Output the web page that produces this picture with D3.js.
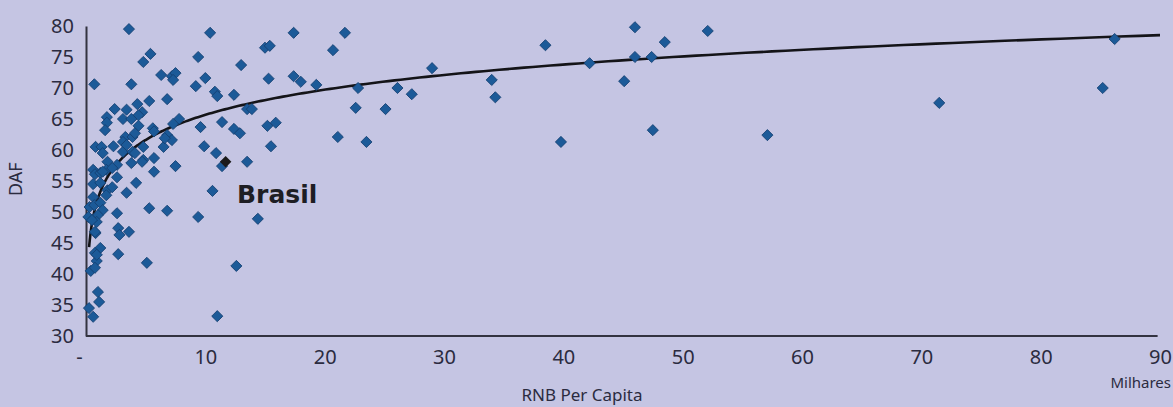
<!DOCTYPE html>
<html>
<head>
<meta charset="utf-8">
<script src="https://cdn.jsdelivr.net/npm/d3@7"></script>
<style>
  html, body { margin: 0; padding: 0; background: #c5c5e3; }
  svg { display: block; }
</style>
</head>
<body>
<svg id="chart" width="1173" height="407"></svg>
<script>
// ---- Data (RNB per capita in thousands, DAF) ----
const rnb = [
  3.6, 10.4, 17.4, 21.7, 20.7, 5.4, 4.8, 9.4, 15.0, 15.4, 13.0, 0.7, 3.8, 6.3, 7.2, 7.5, 7.3, 9.2, 10.0, 10.8,
  11.0, 12.4, 13.5, 13.9, 15.3, 17.4, 18.0, 19.3, 6.8, 5.3, 4.3, 2.4, 3.4, 4.7, 4.4, 1.75, 1.75, 3.1, 3.8, 4.4,
  1.6, 5.6, 5.7, 7.8, 7.3, 9.6, 11.4, 12.4, 12.9, 15.2, 15.9, 3.3, 3.9, 6.8, 7.2, 6.5, 3.1, 4.8, 0.8, 1.3,
  2.3, 1.4, 3.1, 3.9, 9.9, 10.9, 15.5, 5.7, 4.8, 4.7, 1.8, 3.8, 2.6, 11.4, 7.5, 13.5, 5.7, 0.6, 0.75, 1.7,
  1.2, 2.6, 4.2, 3.4, 10.6, 0.6, 1.2, 1.8, 1.7, 0.6, 0.3, 0.7, 1.2, 1.4, 0.2, 1.0, 0.9, 2.6, 5.3, 6.8,
  9.4, 14.4, 0.8, 2.7, 2.8, 3.6, 1.2, 0.75, 0.9, 2.7, 5.1, 12.6, 0.4, 0.75, 1.0, 1.1, 0.25, 0.6, 11.0, 22.6,
  22.8, 21.1, 23.5, 25.1, 26.1, 27.3, 29.0, 34.0, 34.3, 38.5, 39.8, 42.2, 45.1, 46.0, 46.0, 47.4, 47.5, 48.5, 52.1, 57.1,
  71.5, 85.2, 86.2, 4.1, 3.4, 6.6, 4.1, 2.2, 1.4, 2.2, 0.5, 0.75, 0.9
];
const daf = [
  79.5, 78.9, 78.9, 78.9, 76.1, 75.5, 74.2, 75.0, 76.5, 76.8, 73.7, 70.6, 70.6, 72.1, 71.9, 72.4, 71.3, 70.3, 71.6, 69.4,
  68.7, 68.9, 66.6, 66.6, 71.5, 71.9, 71.0, 70.5, 68.2, 67.9, 67.4, 66.6, 66.5, 66.1, 65.6, 65.3, 64.4, 65.0, 65.0, 63.9,
  63.2, 63.5, 63.0, 65.0, 64.2, 63.7, 64.5, 63.4, 62.7, 63.9, 64.4, 62.1, 62.1, 62.4, 61.6, 60.5, 61.3, 60.5, 60.5, 60.5,
  60.6, 59.5, 59.7, 59.7, 60.6, 59.5, 60.6, 58.7, 58.4, 58.1, 58.1, 57.9, 57.6, 57.4, 57.4, 58.1, 56.5, 56.8, 56.1, 56.8,
  56.3, 55.6, 54.7, 53.1, 53.4, 54.5, 54.7, 53.5, 52.7, 52.4, 50.8, 51.1, 51.5, 50.3, 49.2, 49.5, 48.4, 49.8, 50.6, 50.2,
  49.2, 48.9, 46.6, 47.4, 46.3, 46.8, 44.2, 43.4, 42.1, 43.2, 41.8, 41.3, 40.5, 41.0, 37.1, 35.5, 34.5, 33.1, 33.2, 66.8,
  70.0, 62.1, 61.3, 66.6, 70.0, 69.0, 73.2, 71.3, 68.5, 76.9, 61.3, 74.0, 71.1, 79.8, 75.0, 75.0, 63.2, 77.4, 79.2, 62.4,
  67.6, 70.0, 77.9, 62.7, 60.8, 61.9, 59.5, 57.1, 56.5, 54.0, 48.7, 46.8, 43.1
];
const brasil = { label: "Brasil", rnb: 11.7, daf: 58.1 };

// Logarithmic trend line as shown in the chart: DAF = a*ln(RNB) + b
const trendCoef = { a: 5.85, b: 52.2, from: 0.26, to: 90 };

const xTicks = [0, 10, 20, 30, 40, 50, 60, 70, 80, 90];
const yTicks = [30, 35, 40, 45, 50, 55, 60, 65, 70, 75, 80];
const xTitle = "RNB Per Capita";
const yTitle = "DAF";
const unitLabel = "Milhares";

// ---- Layout ----
const svg = d3.select("#chart");
const x = d3.scaleLinear().domain([0, 90]).range([86, 1160]);
const y = d3.scaleLinear().domain([30, 80]).range([336, 26]);

const textColor = "#2b2b40";
const fontFam = "'Noto Sans', 'DejaVu Sans', sans-serif";

// Y axis
const yAxis = d3.axisLeft(y).tickValues(yTicks).tickSize(0).tickPadding(12);
const gy = svg.append("g").attr("transform", "translate(86,0)").call(yAxis);
gy.select(".domain").attr("stroke", "#333340").attr("stroke-width", 2);
gy.selectAll("text").attr("font-family", fontFam).attr("font-size", 20).attr("fill", textColor);

// X axis
const xAxis = d3.axisBottom(x).tickValues(xTicks).tickSize(0).tickPadding(14)
  .tickFormat(d => d === 0 ? "-" : d);
const gx = svg.append("g").attr("transform", "translate(0,336)").call(xAxis);
gx.select(".domain").attr("stroke", "#333340").attr("stroke-width", 2.2)
  .attr("d", `M${x(0)},0H${x(89.8)}`);
gx.selectAll("text").attr("font-family", fontFam).attr("font-size", 20).attr("fill", textColor);
gx.selectAll(".tick").filter(d => d === 0).select("text").attr("dx", -7);

// Axis titles
svg.append("text")
  .attr("transform", `translate(22,${y(55.3)}) rotate(-90)`)
  .attr("text-anchor", "middle")
  .attr("font-family", fontFam).attr("font-size", 18).attr("fill", textColor)
  .text(yTitle);

svg.append("text")
  .attr("x", 582).attr("y", 401)
  .attr("text-anchor", "middle")
  .attr("font-family", fontFam).attr("font-size", 17).attr("fill", textColor)
  .text(xTitle);

svg.append("text")
  .attr("x", 1171).attr("y", 388)
  .attr("text-anchor", "end")
  .attr("font-family", fontFam).attr("font-size", 15).attr("fill", textColor)
  .text(unitLabel);

// ---- Trend line ----
const trendPts = d3.range(0, 301).map(i => {
  const xv = trendCoef.from * Math.pow(trendCoef.to / trendCoef.from, i / 300);
  return [xv, trendCoef.a * Math.log(xv) + trendCoef.b];
});
svg.append("path")
  .datum(trendPts)
  .attr("fill", "none")
  .attr("stroke", "#141418")
  .attr("stroke-width", 2.6)
  .attr("d", d3.line().x(d => x(d[0])).y(d => y(d[1])));

// ---- Points ----
const pts = rnb.map((v, i) => ({ rnb: v, daf: daf[i] }));
svg.append("g").selectAll("path")
  .data(pts)
  .join("path")
  .attr("transform", d => `translate(${x(d.rnb)},${y(d.daf)}) rotate(45)`)
  .attr("d", d3.symbol().type(d3.symbolSquare).size(62)())
  .attr("fill", "#1c5a98")
  .attr("stroke", "#143f70")
  .attr("stroke-width", 0.8);

// Brasil
svg.append("path")
  .attr("transform", `translate(${x(brasil.rnb)},${y(brasil.daf)}) rotate(45)`)
  .attr("d", d3.symbol().type(d3.symbolSquare).size(66)())
  .attr("fill", "#1a1a1a");

svg.append("text")
  .attr("x", 237).attr("y", y(51.5))
  .attr("font-family", "'DejaVu Sans', sans-serif")
  .attr("font-weight", "bold")
  .attr("font-size", 25)
  .attr("fill", "#1e1e24")
  .text(brasil.label);
</script>
</body>
</html>
